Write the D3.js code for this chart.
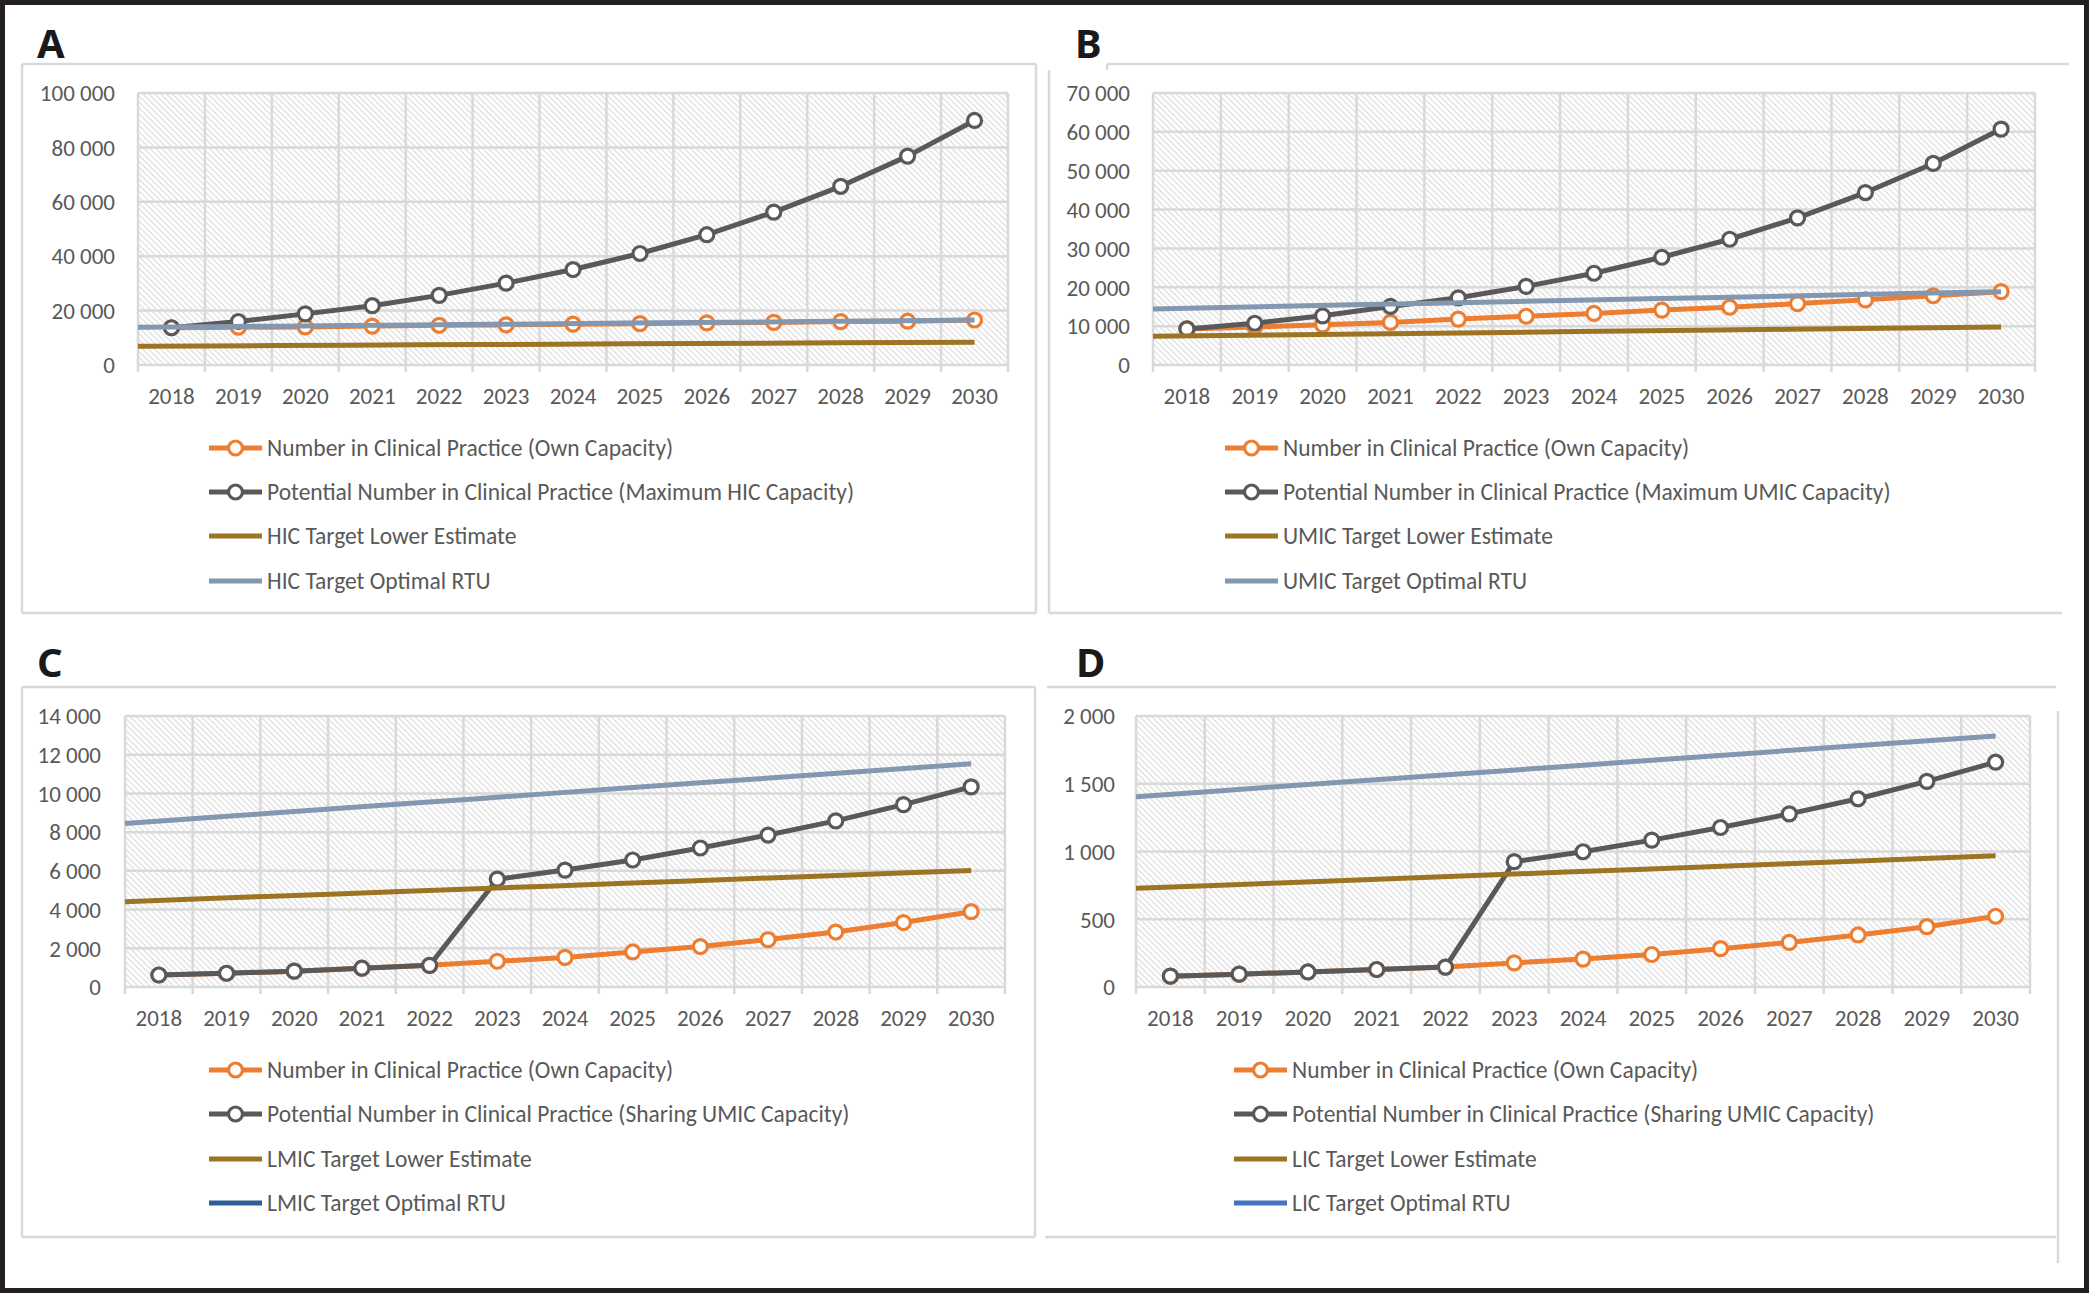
<!DOCTYPE html>
<html><head><meta charset="utf-8">
<script src="https://cdn.jsdelivr.net/npm/d3@7"></script>
<style>html,body{margin:0;padding:0;background:#fff;} svg{display:block;}</style>
</head><body><svg id="c" width="2089" height="1293"></svg>
<script>
// ---------- DATA ----------
const years = ["2018","2019","2020","2021","2022","2023","2024","2025","2026","2027","2028","2029","2030"];

// Panel A (HIC)
const aOwn      = [13700,13900,14000,14300,14600,14750,15000,15200,15500,15650,15950,16100,16550];
const aMax      = [13700,16000,18800,21800,25600,30100,35100,41000,47900,56200,65700,76800,89900];
const aLower    = [6900,7030,7150,7280,7400,7530,7650,7780,7900,8030,8150,8280,8400];
const aOptimal  = [13850,14070,14290,14510,14730,14950,15180,15400,15620,15840,16060,16280,16500];
const aTicks    = [0,20000,40000,60000,80000,100000];
const aLegend   = ["Number in Clinical Practice (Own Capacity)","Potential Number in Clinical Practice (Maximum HIC Capacity)","HIC Target Lower Estimate","HIC Target Optimal RTU"];

// Panel B (UMIC)
const bOwn      = [9280,9800,10330,10960,11810,12550,13280,14130,14860,15810,16760,17820,18870];
const bMax      = [9280,10750,12650,15080,17290,20240,23610,27730,32360,37850,44380,51870,60720];
const bLower    = [7380,7580,7780,7990,8190,8390,8590,8790,8990,9200,9400,9600,9800];
const bOptimal  = [14440,14810,15180,15550,15920,16290,16660,17020,17390,17760,18130,18500,18870];
const bTicks    = [0,10000,20000,30000,40000,50000,60000,70000];
const bLegend   = ["Number in Clinical Practice (Own Capacity)","Potential Number in Clinical Practice (Maximum UMIC Capacity)","UMIC Target Lower Estimate","UMIC Target Optimal RTU"];

// Panel C (LMIC)
const cOwn      = [620,710,820,970,1120,1330,1530,1810,2090,2450,2840,3330,3890];
const cMax      = [620,710,820,970,1120,5570,6040,6560,7180,7850,8580,9420,10340];
const cLower    = [4410,4540,4680,4810,4950,5080,5210,5350,5480,5620,5750,5890,6020];
const cOptimal  = [8450,8710,8960,9220,9480,9730,9990,10250,10510,10760,11020,11270,11530];
const cTicks    = [0,2000,4000,6000,8000,10000,12000,14000];
const cLegend   = ["Number in Clinical Practice (Own Capacity)","Potential Number in Clinical Practice (Sharing UMIC Capacity)","LMIC Target Lower Estimate","LMIC Target Optimal RTU"];

// Panel D (LIC)
const dOwn      = [80,95,111,129,147,178,206,240,283,329,384,445,522];
const dMax      = [80,95,111,129,147,925,998,1084,1177,1278,1389,1518,1659];
const dLower    = [728,748,768,788,808,828,848,868,888,908,928,948,968];
const dOptimal  = [1404,1441,1479,1516,1554,1591,1628,1666,1703,1741,1778,1816,1853];
const dTicks    = [0,500,1000,1500,2000];
const dLegend   = ["Number in Clinical Practice (Own Capacity)","Potential Number in Clinical Practice (Sharing UMIC Capacity)","LIC Target Lower Estimate","LIC Target Optimal RTU"];

// ---------- STYLE / LAYOUT ----------
const COL = {own:"#ED7D31", max:"#595959", lower:"#9C7424", optimal:"#8497B0", grid:"#d9d9d9", text:"#595959", frame:"#d9d9d9"};
const FONT = "Carlito, Lato, 'Open Sans', sans-serif";

const panels = [
  {letter:"A", lx:37, ly:58, own:aOwn, max:aMax, lower:aLower, optimal:aOptimal, ticks:aTicks, legend:aLegend,
   x0:138, x1:1008, y0:93, y1:365, yLab:115, xLabY:404, legX:209, legY:[448,492,536,581], optLegendCol:COL.optimal,
   frame:[[22,64,1036,64],[1036,64,1036,613],[1036,613,22,613],[22,613,22,64]]},
  {letter:"B", lx:1075, ly:58, own:bOwn, max:bMax, lower:bLower, optimal:bOptimal, ticks:bTicks, legend:bLegend,
   x0:1153, x1:2035, y0:93, y1:365, yLab:1130, xLabY:404, legX:1225, legY:[448,492,536,581], optLegendCol:COL.optimal,
   frame:[[1107,64,2069,64],[1107,64,1107,70],[1049,70,1049,613],[1049,613,2062,613]]},
  {letter:"C", lx:37, ly:677, own:cOwn, max:cMax, lower:cLower, optimal:cOptimal, ticks:cTicks, legend:cLegend,
   x0:125, x1:1005, y0:716, y1:987, yLab:101, xLabY:1026, legX:209, legY:[1070,1114,1159,1203], optLegendCol:"#2E5F94",
   frame:[[22,687,1035,687],[1035,687,1035,1237],[1035,1237,22,1237],[22,1237,22,687]]},
  {letter:"D", lx:1076, ly:677, own:dOwn, max:dMax, lower:dLower, optimal:dOptimal, ticks:dTicks, legend:dLegend,
   x0:1136, x1:2030, y0:716, y1:987, yLab:1115, xLabY:1026, legX:1234, legY:[1070,1114,1159,1203], optLegendCol:"#4472C4",
   frame:[[1047,687,2056,687],[2058,711,2058,1263],[1045,1237,2056,1237]]}
];

const fmt = d3.formatLocale({decimal:".", thousands:" ", grouping:[3], currency:["",""]}).format(",");
const svg = d3.select("#c");

// hatch pattern
const defs = svg.append("defs");
const pat = defs.append("pattern").attr("id","hatch").attr("patternUnits","userSpaceOnUse")
  .attr("width",4.2).attr("height",4.2).attr("patternTransform","rotate(-45)");
pat.append("rect").attr("width",4.2).attr("height",4.2).attr("fill","#fff");
pat.append("line").attr("x1",1).attr("y1",0).attr("x2",1).attr("y2",4.2).attr("stroke","#dadada").attr("stroke-width",1.1);

// outer black border
svg.append("rect").attr("x",2.5).attr("y",2.5).attr("width",2084).attr("height",1288)
  .attr("fill","#fff").attr("stroke","#231f20").attr("stroke-width",5);

function drawPanel(p){
  const g = svg.append("g");
  g.append("text").attr("x",p.lx).attr("y",p.ly).text(p.letter)
    .attr("font-family","'Noto Sans', 'DejaVu Sans', sans-serif").attr("font-weight",700)
    .attr("font-size",40).attr("fill","#1a1a1a");
  g.selectAll("line.frame").data(p.frame).join("line").attr("class","frame")
    .attr("x1",d=>d[0]).attr("y1",d=>d[1]).attr("x2",d=>d[2]).attr("y2",d=>d[3])
    .attr("stroke",COL.frame).attr("stroke-width",2.5);

  const x = d3.scaleBand().domain(years).range([p.x0,p.x1]).paddingInner(0).paddingOuter(0);
  const bw = x.bandwidth();
  const y = d3.scaleLinear().domain([0, d3.max(p.ticks)]).range([p.y1,p.y0]);
  const xc = d => x(d) + bw/2;
  const xt = d3.scalePoint().domain(years).range([p.x0, xc(years[years.length-1])]);

  g.append("rect").attr("x",p.x0).attr("y",p.y0).attr("width",p.x1-p.x0).attr("height",p.y1-p.y0)
    .attr("fill","url(#hatch)");
  g.selectAll("line.hg").data(p.ticks).join("line").attr("class","hg")
    .attr("x1",p.x0).attr("x2",p.x1).attr("y1",d=>y(d)).attr("y2",d=>y(d))
    .attr("stroke",COL.grid).attr("stroke-width",2.5);
  const bounds = years.map(d=>x(d)).concat([p.x1]);
  g.selectAll("line.vg").data(bounds).join("line").attr("class","vg")
    .attr("x1",d=>d).attr("x2",d=>d).attr("y1",p.y0).attr("y2",p.y1+7)
    .attr("stroke",COL.grid).attr("stroke-width",2.5);

  g.selectAll("text.xl").data(years).join("text").attr("class","xl")
    .attr("x",d=>xc(d)).attr("y",p.xLabY).attr("text-anchor","middle").text(d=>d)
    .attr("font-family",FONT).attr("font-size",23).attr("fill",COL.text);
  g.selectAll("text.yl").data(p.ticks).join("text").attr("class","yl")
    .attr("x",p.yLab).attr("y",d=>y(d)).attr("dy","0.36em").attr("text-anchor","end").text(d=>fmt(d))
    .attr("font-family",FONT).attr("font-size",23).attr("fill",COL.text);

  const line = d3.line().x(d=>xc(d.k)).y(d=>y(d.v));
  const lineT = d3.line().x(d=>xt(d.k)).y(d=>y(d.v));
  const pts = arr => arr.map((v,i)=>({k:years[i], v}));

  function markerSeries(arr,col){
    g.append("path").datum(pts(arr)).attr("d",line).attr("fill","none")
      .attr("stroke",col).attr("stroke-width",5).attr("stroke-linejoin","round");
    g.selectAll(null).data(pts(arr)).join("circle")
      .attr("cx",d=>xc(d.k)).attr("cy",d=>y(d.v)).attr("r",7)
      .attr("fill","#fff").attr("stroke",col).attr("stroke-width",3.2);
  }
  function plainSeries(arr,col){
    g.append("path").datum(pts(arr)).attr("d",lineT).attr("fill","none")
      .attr("stroke",col).attr("stroke-width",5).attr("stroke-linejoin","round");
  }
  markerSeries(p.own, COL.own);
  markerSeries(p.max, COL.max);
  plainSeries(p.lower, COL.lower);
  plainSeries(p.optimal, COL.optimal);

  const legCols = [COL.own, COL.max, COL.lower, p.optLegendCol];
  p.legend.forEach((lab,i)=>{
    const ly = p.legY[i];
    g.append("line").attr("x1",p.legX).attr("x2",p.legX+53).attr("y1",ly).attr("y2",ly)
      .attr("stroke",legCols[i]).attr("stroke-width",5);
    if(i<2){
      g.append("circle").attr("cx",p.legX+26.5).attr("cy",ly).attr("r",7)
        .attr("fill","#fff").attr("stroke",legCols[i]).attr("stroke-width",3.2);
    }
    g.append("text").attr("x",p.legX+58).attr("y",ly).attr("dy","0.36em").text(lab)
      .attr("font-family",FONT).attr("font-size",23.5).attr("fill",COL.text);
  });
}
panels.forEach(drawPanel);
</script></body></html>
